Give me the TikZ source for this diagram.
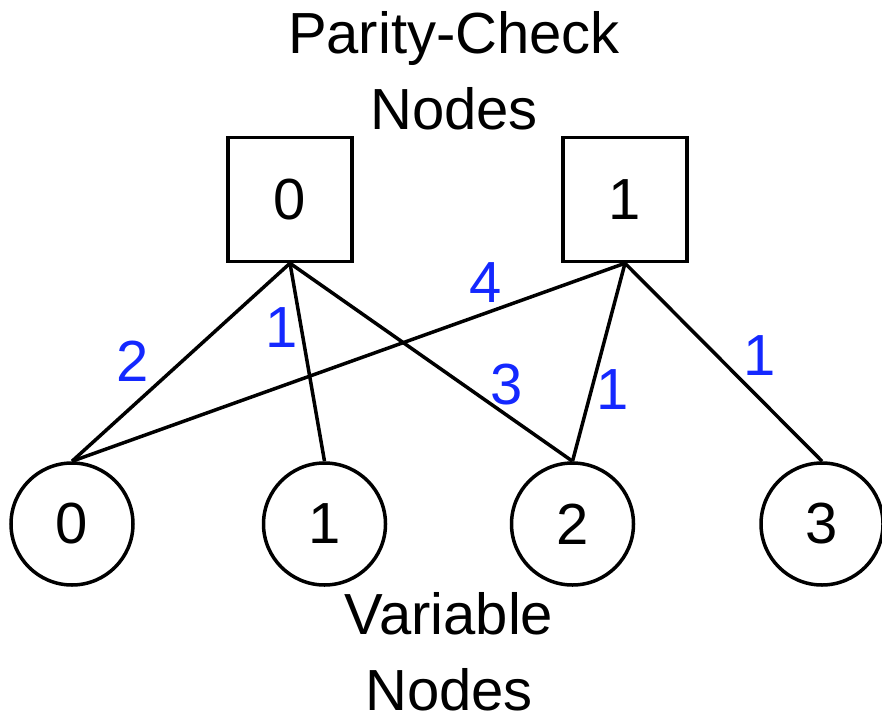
\documentclass[tikz,border=0pt]{standalone}
\usepackage{fontspec}
\setmainfont{Liberation Sans}
\definecolor{weightblue}{RGB}{20,40,255}
\begin{document}
\begin{tikzpicture}[x=1pt,y=-1pt,
  every node/.style={font=\fontsize{58}{76}\selectfont},
  check/.style={draw,line width=3.5pt,rectangle,minimum size=124pt,inner sep=0pt},
  var/.style={draw,line width=3.5pt,circle,minimum size=122pt,inner sep=0pt},
  edge/.style={line width=3.5pt},
  weight/.style={text=weightblue,inner sep=0pt},
  caption/.style={align=center,inner sep=0pt}]
\useasboundingbox (0,0) rectangle (882,719);

% captions
\node[caption] (ctitle) at (454,71) {Parity-Check\\Nodes};
\node[caption] (vtitle) at (449,652) {Variable\\Nodes};

% parity-check nodes
\node[check] (c0) at (290,199.5) {0};
\node[check] (c1) at (625,199.5) {1};

% variable nodes
\node[var] (v0) at (72,524) {0};
\node[var] (v1) at (324.5,524) {1};
\node[var] (v2) at (572.5,524) {2};
\node[var] (v3) at (822,524) {3};

% edges of the Tanner graph
\draw[edge] (c0.south) -- (v0.north);
\draw[edge] (c0.south) -- (v1.north);
\draw[edge] (c0.south) -- (v2.north);
\draw[edge] (c1.south) -- (v0.north);
\draw[edge] (c1.south) -- (v2.north);
\draw[edge] (c1.south) -- (v3.north);

% edge weights
\node[weight] (w00) at (133,361) {2};
\node[weight] (w01) at (282,328) {1};
\node[weight] (w02) at (507,385) {3};
\node[weight] (w10) at (486,283) {4};
\node[weight] (w12) at (613,390) {1};
\node[weight] (w13) at (760,356) {1};
\end{tikzpicture}
\end{document}
